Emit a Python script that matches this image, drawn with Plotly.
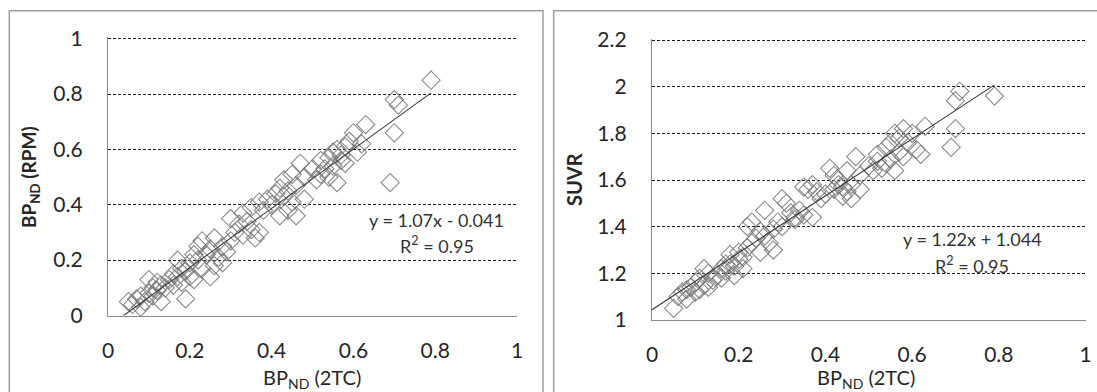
import plotly.graph_objects as go

# ---------------- data ----------------
bp_2tc = [0.05, 0.06, 0.07, 0.08, 0.08, 0.09, 0.10, 0.10, 0.11, 0.11,
          0.12, 0.12, 0.13, 0.13, 0.14, 0.15, 0.16, 0.16, 0.17, 0.17,
          0.18, 0.18, 0.19, 0.19, 0.20, 0.20, 0.21, 0.21, 0.22, 0.22,
          0.23, 0.23, 0.24, 0.25, 0.25, 0.26, 0.26, 0.27, 0.28, 0.28,
          0.29, 0.30, 0.30, 0.31, 0.32, 0.33, 0.33, 0.34, 0.35, 0.35,
          0.36, 0.37, 0.37, 0.38, 0.39, 0.40, 0.41, 0.42, 0.42, 0.43,
          0.43, 0.44, 0.44, 0.45, 0.45, 0.46, 0.46, 0.47, 0.48, 0.48,
          0.50, 0.51, 0.52, 0.52, 0.53, 0.54, 0.54, 0.55, 0.55, 0.56,
          0.56, 0.57, 0.57, 0.58, 0.58, 0.59, 0.60, 0.61, 0.62, 0.63,
          0.69, 0.70, 0.70, 0.71, 0.79]

bp_rpm = [0.05, 0.04, 0.06, 0.03, 0.07, 0.05, 0.08, 0.13, 0.10, 0.07,
          0.12, 0.09, 0.05, 0.11, 0.10, 0.13, 0.15, 0.11, 0.20, 0.14,
          0.17, 0.12, 0.06, 0.16, 0.14, 0.19, 0.22, 0.13, 0.25, 0.20,
          0.27, 0.17, 0.22, 0.14, 0.24, 0.28, 0.18, 0.21, 0.25, 0.19,
          0.23, 0.35, 0.27, 0.30, 0.33, 0.37, 0.29, 0.34, 0.39, 0.31,
          0.28, 0.41, 0.30, 0.38, 0.42, 0.40, 0.44, 0.46, 0.36, 0.43,
          0.49, 0.38, 0.45, 0.41, 0.51, 0.36, 0.47, 0.55, 0.42, 0.50,
          0.53, 0.49, 0.51, 0.56, 0.53, 0.50, 0.57, 0.59, 0.54, 0.48,
          0.60, 0.56, 0.58, 0.61, 0.55, 0.63, 0.66, 0.59, 0.62, 0.69,
          0.48, 0.66, 0.78, 0.76, 0.85]

suvr = [1.05, 1.10, 1.12, 1.09, 1.13, 1.14, 1.16, 1.12, 1.18, 1.13,
        1.22, 1.15, 1.14, 1.20, 1.17, 1.19, 1.22, 1.18, 1.24, 1.21,
        1.28, 1.24, 1.19, 1.23, 1.26, 1.29, 1.27, 1.22, 1.40, 1.31,
        1.42, 1.33, 1.35, 1.29, 1.38, 1.47, 1.36, 1.33, 1.39, 1.30,
        1.42, 1.52, 1.40, 1.50, 1.46, 1.44, 1.43, 1.47, 1.57, 1.45,
        1.56, 1.58, 1.44, 1.55, 1.52, 1.54, 1.65, 1.62, 1.56, 1.58,
        1.60, 1.53, 1.57, 1.55, 1.64, 1.52, 1.58, 1.70, 1.56, 1.62,
        1.66, 1.64, 1.68, 1.71, 1.65, 1.67, 1.74, 1.76, 1.69, 1.64,
        1.80, 1.72, 1.78, 1.82, 1.70, 1.76, 1.80, 1.73, 1.71, 1.83,
        1.74, 1.82, 1.94, 1.98, 1.96]

fit_left = {"slope": 1.07, "intercept": -0.041, "r2": 0.95}
fit_right = {"slope": 1.22, "intercept": 1.044, "r2": 0.95}

x_ticks = [0, 0.2, 0.4, 0.6, 0.8, 1]
y_ticks_left = [0, 0.2, 0.4, 0.6, 0.8, 1]
y_ticks_right = [1, 1.2, 1.4, 1.6, 1.8, 2, 2.2]

# ---------------- layout helpers ----------------
W, H = 1097, 392
def px_x(p):
    return p / W
def px_y(p):
    return 1 - p / H

FONT = "Lato, 'Open Sans', sans-serif"
MARK_COL = "rgba(120,120,120,0.85)"
GRID_COL = "#1a1a1a"
AXIS_COL = "#8c8c8c"
TEXT_COL = "#262626"

fig = go.Figure()

marker = dict(symbol="diamond-open", size=14, line=dict(width=1.1, color=MARK_COL), color=MARK_COL)

fig.add_trace(go.Scatter(x=bp_2tc, y=bp_rpm, mode="markers", xaxis="x", yaxis="y",
                         marker=marker, showlegend=False, cliponaxis=False))
fig.add_trace(go.Scatter(x=bp_2tc, y=suvr, mode="markers", xaxis="x2", yaxis="y2",
                         marker=marker, showlegend=False, cliponaxis=False))

# trend lines
xl = [0, max(bp_2tc)]
fig.add_trace(go.Scatter(x=xl, y=[fit_left["slope"] * v + fit_left["intercept"] for v in xl],
                         mode="lines", xaxis="x", yaxis="y",
                         line=dict(color="#3a3a3a", width=1.1), showlegend=False))
fig.add_trace(go.Scatter(x=xl, y=[fit_right["slope"] * v + fit_right["intercept"] for v in xl],
                         mode="lines", xaxis="x2", yaxis="y2",
                         line=dict(color="#3a3a3a", width=1.1), showlegend=False))

tickfont = dict(family=FONT, size=21, color=TEXT_COL)

def xaxis_cfg(domain, anchor):
    return dict(domain=domain, anchor=anchor, range=[0, 1], tickvals=x_ticks,
                ticktext=[f"{v:g}" for v in x_ticks], automargin=False,
                showgrid=False, zeroline=False, showline=True, linecolor=AXIS_COL, linewidth=1.3,
                ticks="outside", ticklen=16, tickcolor="rgba(0,0,0,0)", tickfont=tickfont)

def yaxis_cfg(domain, anchor, rng, vals):
    return dict(domain=domain, anchor=anchor, range=rng, tickvals=vals,
                ticktext=[f"{v:g}" for v in vals], automargin=False,
                showgrid=True, gridcolor=GRID_COL, gridwidth=1, griddash="3px,2px",
                zeroline=False, showline=True, linecolor=AXIS_COL, linewidth=1.3,
                ticks="outside", ticklen=20, tickcolor="rgba(0,0,0,0)", tickfont=tickfont)

# left panel: y=0 at px 315.5, y=1 at px 38.7 ; range padded a hair so top grid line shows
L_top_val = 1.005
L_top_px = 315.5 - (315.5 - 38.7) * L_top_val
R_top_val = 2.205
R_top_px = 320 - (320 - 40) * (R_top_val - 1) / 1.2

fig.update_layout(
    template="none",
    width=W, height=H,
    margin=dict(l=0, r=0, t=0, b=0, pad=0),
    paper_bgcolor="white", plot_bgcolor="white",
    font=dict(family=FONT, color=TEXT_COL),
    xaxis=xaxis_cfg([px_x(108), px_x(517)], "y"),
    yaxis=yaxis_cfg([px_y(315.5), px_y(L_top_px)], "x", [0, L_top_val], y_ticks_left),
    xaxis2=xaxis_cfg([px_x(652), px_x(1085.5)], "y2"),
    yaxis2=yaxis_cfg([px_y(320), px_y(R_top_px)], "x2", [1, R_top_val], y_ticks_right),
)

# panel borders
for x0, x1 in [(9.3, 543), (553.7, 1105)]:
    fig.add_shape(type="rect", xref="paper", yref="paper",
                  x0=px_x(x0), x1=px_x(x1), y0=px_y(400), y1=px_y(10.7),
                  line=dict(color="#a0a0a0", width=1.5), fillcolor="rgba(0,0,0,0)", layer="below")

annots = [
    dict(text="<b>BP<sub>ND</sub> (RPM)</b>", x=px_x(30), y=px_y(177), textangle=-90, size=19),
    dict(text="<b>SUVR</b>", x=px_x(574), y=px_y(180), textangle=-90, size=20),
    dict(text="BP<sub>ND</sub> (2TC)", x=px_x(312), y=px_y(378), textangle=0, size=20),
    dict(text="BP<sub>ND</sub> (2TC)", x=px_x(866), y=px_y(378), textangle=0, size=20),
]
for a in annots:
    fig.add_annotation(text=a["text"], x=a["x"], y=a["y"], xref="paper", yref="paper",
                       textangle=a["textangle"], showarrow=False, xanchor="center", yanchor="middle",
                       font=dict(family=FONT, size=a["size"], color=TEXT_COL))

def eq_text(f):
    sign = "-" if f["intercept"] < 0 else "+"
    return f"y = {f['slope']:g}x {sign} {abs(f['intercept']):g}"

eqfont = dict(family=FONT, size=18, color="#333")
fig.add_annotation(text=eq_text(fit_left), x=0.804, y=0.345, xref="x", yref="y",
                   showarrow=False, font=eqfont)
fig.add_annotation(text=f"R<sup>2</sup> = {fit_left['r2']:g}", x=0.804, y=0.255, xref="x", yref="y",
                   showarrow=False, font=eqfont)
fig.add_annotation(text=eq_text(fit_right), x=0.739, y=1.347, xref="x2", yref="y2",
                   showarrow=False, font=eqfont)
fig.add_annotation(text=f"R<sup>2</sup> = {fit_right['r2']:g}", x=0.739, y=1.236, xref="x2", yref="y2",
                   showarrow=False, font=eqfont)

fig.write_html("out.html")
